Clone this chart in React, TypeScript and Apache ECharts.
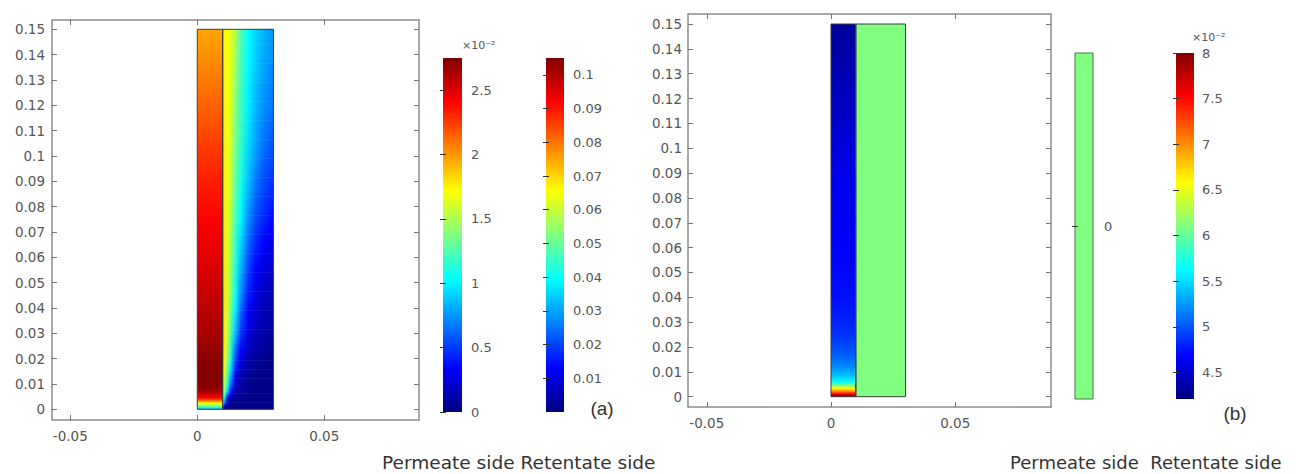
import React, { useEffect, useRef } from "react";
import * as echarts from "echarts";

// ---------- tick labels ----------
const yTicks = [0, 0.01, 0.02, 0.03, 0.04, 0.05, 0.06, 0.07, 0.08, 0.09, 0.1, 0.11, 0.12, 0.13, 0.14, 0.15];
const xTicks = [-0.05, 0, 0.05];

// colour bars (ranges + tick labels)
const cbA1Range = [0, 2.75]; // ×10^-2
const cbA1Ticks = [0, 0.5, 1, 1.5, 2, 2.5];
const cbA2Range = [0, 0.105];
const cbA2Ticks = [0.01, 0.02, 0.03, 0.04, 0.05, 0.06, 0.07, 0.08, 0.09, 0.1];
const cbB1Range = [-1, 1];
const cbB1Ticks = [0];
const cbB2Range = [4.21, 8]; // ×10^-2
const cbB2Ticks = [4.5, 5, 5.5, 6, 6.5, 7, 7.5, 8];

// ---------- geometry of the two domains ----------
const domainX = [0, 0.01, 0.03];
const domainY = [0, 0.15];

// ---------- panel (a) permeate strip (x 0 .. 0.01), values ×10^-2 ----------
const permAY = [0, 0.0008, 0.0017, 0.0025, 0.0033, 0.0045, 0.006, 0.008, 0.012, 0.02, 0.03, 0.045, 0.06, 0.075, 0.09, 0.105, 0.12, 0.135, 0.15];
const permAVal = [0.82, 1.15, 1.5, 1.73, 2.06, 2.4, 2.56, 2.7, 2.75, 2.72, 2.64, 2.56, 2.48, 2.41, 2.33, 2.24, 2.14, 2.05, 1.96];

// ---------- panel (a) retentate side (x 0.01 .. 0.03) ----------
const retAX = [0.01, 0.0105, 0.011, 0.012, 0.013, 0.015, 0.017, 0.02, 0.023, 0.026, 0.03];
const retAY = [0, 0.0005, 0.002, 0.004, 0.007, 0.01, 0.015, 0.02, 0.03, 0.045, 0.06, 0.075, 0.09, 0.105, 0.12, 0.135, 0.15];
const retAVal = [
  [0.012, 0.004, 0.002, 0.001, 0.001, 0.001, 0.001, 0.001, 0.001, 0.001, 0.001],
  [0.021, 0.008, 0.003, 0.001, 0.001, 0.001, 0.001, 0.001, 0.001, 0.001, 0.001],
  [0.047, 0.028, 0.014, 0.004, 0.002, 0.001, 0.001, 0.001, 0.001, 0.001, 0.001],
  [0.061, 0.045, 0.03, 0.01, 0.004, 0.002, 0.001, 0.001, 0.001, 0.001, 0.001],
  [0.066, 0.057, 0.048, 0.033, 0.016, 0.005, 0.003, 0.002, 0.001, 0.001, 0.001],
  [0.069, 0.062, 0.054, 0.043, 0.027, 0.009, 0.004, 0.002, 0.001, 0.001, 0.001],
  [0.071, 0.066, 0.06, 0.049, 0.036, 0.015, 0.007, 0.003, 0.002, 0.001, 0.001],
  [0.073, 0.068, 0.063, 0.054, 0.043, 0.021, 0.011, 0.005, 0.003, 0.002, 0.001],
  [0.075, 0.07, 0.066, 0.058, 0.049, 0.033, 0.019, 0.01, 0.006, 0.004, 0.003],
  [0.074, 0.07, 0.067, 0.061, 0.054, 0.041, 0.028, 0.016, 0.01, 0.007, 0.005],
  [0.072, 0.069, 0.067, 0.062, 0.056, 0.044, 0.034, 0.022, 0.015, 0.011, 0.009],
  [0.071, 0.068, 0.067, 0.063, 0.058, 0.047, 0.039, 0.028, 0.021, 0.017, 0.014],
  [0.07, 0.068, 0.067, 0.064, 0.06, 0.05, 0.042, 0.033, 0.026, 0.021, 0.018],
  [0.069, 0.068, 0.067, 0.064, 0.061, 0.052, 0.045, 0.036, 0.03, 0.025, 0.022],
  [0.069, 0.068, 0.066, 0.065, 0.062, 0.054, 0.046, 0.038, 0.032, 0.028, 0.025],
  [0.068, 0.067, 0.066, 0.065, 0.063, 0.056, 0.047, 0.039, 0.034, 0.03, 0.027],
  [0.068, 0.067, 0.066, 0.065, 0.063, 0.058, 0.048, 0.04, 0.035, 0.032, 0.029],
];

// ---------- panel (b) ----------
const permBY = [0, 0.0003, 0.0011, 0.002, 0.0033, 0.004, 0.0059, 0.0083, 0.0128, 0.0176, 0.026, 0.039, 0.059, 0.087, 0.119, 0.15];
const permBVal = [8.0, 7.92, 7.55, 7.09, 6.6, 6.29, 5.65, 5.42, 5.16, 5.01, 4.85, 4.74, 4.68, 4.62, 4.45, 4.32];
const retBVal = 0;

// axis ranges
const aXRange = [-0.0572, 0.0873];
const aYRange = [-0.00422, 0.15367];
const bXRange = [-0.05757, 0.08857];
const bYRange = [-0.00415, 0.15403];

// ---------- colour map (rainbow / jet) ----------
const jetHex = ["#000080", "#0000FF", "#0080FF", "#00FFFF", "#80FF80", "#FFFF00", "#FF8000", "#FF0000", "#800000"];
const hexRgb = (h: string) => [parseInt(h.slice(1, 3), 16), parseInt(h.slice(3, 5), 16), parseInt(h.slice(5, 7), 16)];
const jetRgb = jetHex.map(hexRgb);
function jet(f: number): string {
  const c = Math.max(0, Math.min(1, f)) * 8;
  const i = Math.min(7, Math.floor(c));
  const t = c - i;
  const a = jetRgb[i], b = jetRgb[i + 1];
  const m = (k: number) => Math.round(a[k] + (b[k] - a[k]) * t);
  return `rgb(${m(0)},${m(1)},${m(2)})`;
}
const norm = (v: number, r: number[]) => (v - r[0]) / (r[1] - r[0]);

const FONT = "'DejaVu Sans', sans-serif";
const LABEL = "#555";
const FRAME = "#8c8c8c";
const fmt = (v: number) => String(parseFloat(Number(v).toPrecision(6)));

function rectFrom(api: any, x0: number, x1: number, y0: number, y1: number) {
  const p0 = api.coord([x0, y1]);
  const p1 = api.coord([x1, y0]);
  return { x: p0[0], y: p0[1], width: p1[0] - p0[0], height: p1[1] - p0[1] };
}

function vGradient(ys: number[], vals: number[], y0: number, y1: number, range: number[]) {
  const stops = ys.map((y, i) => ({ offset: (y1 - y) / (y1 - y0), color: jet(norm(vals[i], range)) }));
  stops.sort((p, q) => p.offset - q.offset);
  return new echarts.graphic.LinearGradient(0, 0, 0, 1, stops);
}

function mainAxes(g: number, xr: number[], yr: number[], yMargin: number, xMargin: number) {
  const tick = { show: true, inside: true, length: 5, lineStyle: { color: "#777", width: 1 } };
  const line = { show: true, onZero: false, lineStyle: { color: FRAME, width: 1.5 } };
  const lbl = { color: LABEL, fontSize: 13.5, fontFamily: FONT, formatter: fmt };
  const xAxis = [
    { gridIndex: g, type: "value", min: xr[0], max: xr[1], position: "bottom", axisLine: line,
      axisTick: { ...tick, customValues: xTicks }, axisLabel: { ...lbl, customValues: xTicks, margin: xMargin }, splitLine: { show: false } },
    { gridIndex: g, type: "value", min: xr[0], max: xr[1], position: "top", axisLine: line,
      axisTick: { ...tick, customValues: xTicks }, axisLabel: { show: false }, splitLine: { show: false } },
  ];
  const yAxis = [
    { gridIndex: g, type: "value", min: yr[0], max: yr[1], position: "left", axisLine: line,
      axisTick: { ...tick, customValues: yTicks }, axisLabel: { ...lbl, customValues: yTicks, margin: yMargin }, splitLine: { show: false } },
    { gridIndex: g, type: "value", min: yr[0], max: yr[1], position: "right", axisLine: line,
      axisTick: { ...tick, customValues: yTicks }, axisLabel: { show: false }, splitLine: { show: false } },
  ];
  return { xAxis, yAxis };
}

function cbAxes(g: number, r: number[], ticks: number[], margin: number) {
  const tick = { show: true, inside: true, length: 3, customValues: ticks, lineStyle: { color: "#333", width: 1 } };
  return {
    xAxis: [{ gridIndex: g, type: "value", min: 0, max: 1, show: false }],
    yAxis: [
      { gridIndex: g, type: "value", min: r[0], max: r[1], position: "right", z: 10, axisLine: { show: false },
        axisTick: tick, splitLine: { show: false },
        axisLabel: { customValues: ticks, margin, color: LABEL, fontSize: 13, fontFamily: FONT, formatter: fmt } },
      { gridIndex: g, type: "value", min: r[0], max: r[1], position: "left", z: 10, axisLine: { show: false },
        axisTick: tick, splitLine: { show: false }, axisLabel: { show: false } },
    ],
  };
}

export default function App() {
  const ref = useRef<HTMLDivElement>(null);
  useEffect(() => {
    if (!ref.current) return;
    const chart = echarts.init(ref.current, null, { renderer: "svg" });

    const grids = [
      { left: 52, top: 20, width: 367, height: 400 },
      { left: 688, top: 14, width: 363, height: 393 },
      { left: 443, top: 58, width: 19, height: 354 },
      { left: 546, top: 58, width: 18, height: 354 },
      { left: 1075, top: 53, width: 18, height: 346 },
      { left: 1176, top: 53, width: 18, height: 346 },
    ].map((g) => ({ ...g, outerBoundsMode: "none", show: false }));

    const parts = [
      mainAxes(0, aXRange, aYRange, 7, 9),
      mainAxes(1, bXRange, bYRange, 6, 9),
      cbAxes(2, cbA1Range, cbA1Ticks, 9),
      cbAxes(3, cbA2Range, cbA2Ticks, 9),
      cbAxes(4, cbB1Range, cbB1Ticks, 11),
      cbAxes(5, cbB2Range, cbB2Ticks, 8),
    ];
    const xAxis: any[] = [];
    const yAxis: any[] = [];
    const xIdx: number[] = [];
    const yIdx: number[] = [];
    parts.forEach((p) => {
      xIdx.push(xAxis.length);
      yIdx.push(yAxis.length);
      xAxis.push(...p.xAxis);
      yAxis.push(...p.yAxis);
    });

    const on = (g: number) => ({ xAxisIndex: xIdx[g], yAxisIndex: yIdx[g] });

    // retentate (a): one item per pair of measured rows
    const retABands = retAY.slice(0, -1).map((y, j) => [domainX[1], domainX[2], y, retAY[j + 1]]);

    const outline = (g: number) => ({
      type: "custom", ...on(g), silent: true, z: 5,
      data: [
        [domainX[0], domainX[1], domainY[0], domainY[1]],
        [domainX[1], domainX[2], domainY[0], domainY[1]],
      ],
      renderItem: (_p: any, api: any) => ({
        type: "rect",
        shape: rectFrom(api, api.value(0), api.value(1), api.value(2), api.value(3)),
        style: { fill: "none", stroke: "#3c3c3c", lineWidth: 1 },
      }),
    });

    const colorbar = (g: number, r: number[], solid?: string) => ({
      type: "custom", ...on(g), silent: true,
      data: [[0, 1, r[0], r[1]]],
      renderItem: (_p: any, api: any) => ({
        type: "rect",
        shape: rectFrom(api, api.value(0), api.value(1), api.value(2), api.value(3)),
        style: solid
          ? { fill: solid, stroke: "#4d6e4d", lineWidth: 1 }
          : { fill: new echarts.graphic.LinearGradient(0, 0, 0, 1, jetHex.map((c, k) => ({ offset: 1 - k / 8, color: c })).reverse()) },
      }),
    });

    const series: any[] = [
      // panel (a) permeate
      {
        type: "custom", ...on(0), silent: true,
        data: [[domainX[0], domainX[1], domainY[0], domainY[1]]],
        renderItem: (_p: any, api: any) => ({
          type: "rect",
          shape: rectFrom(api, api.value(0), api.value(1), api.value(2), api.value(3)),
          style: { fill: vGradient(permAY, permAVal, domainY[0], domainY[1], cbA1Range) },
        }),
      },
      // panel (a) retentate: shaded smoothly between two measured rows
      {
        type: "custom", ...on(0), silent: true,
        data: retABands,
        renderItem: (p: any, api: any) => {
          const j = p.dataIndex;
          const x0 = api.value(0), x1 = api.value(1);
          const s = rectFrom(api, x0, x1, api.value(2), api.value(3));
          const n = Math.max(1, Math.ceil(s.height / 2));
          const children: any[] = [];
          for (let k = 0; k < n; k++) {
            const t = 1 - (k + 0.5) / n; // 1 at top (row j+1), 0 at bottom (row j)
            const stops = retAX.map((x, i) => ({
              offset: (x - x0) / (x1 - x0),
              color: jet(norm(retAVal[j][i] * (1 - t) + retAVal[j + 1][i] * t, cbA2Range)),
            }));
            children.push({
              type: "rect",
              shape: { x: s.x, y: s.y + (k * s.height) / n - 0.3, width: s.width, height: s.height / n + 0.6 },
              style: { fill: new echarts.graphic.LinearGradient(0, 0, 1, 0, stops) },
            });
          }
          return { type: "group", children };
        },
      },
      outline(0),
      // panel (b) permeate
      {
        type: "custom", ...on(1), silent: true,
        data: [[domainX[0], domainX[1], domainY[0], domainY[1]]],
        renderItem: (_p: any, api: any) => ({
          type: "rect",
          shape: rectFrom(api, api.value(0), api.value(1), api.value(2), api.value(3)),
          style: { fill: vGradient(permBY, permBVal, domainY[0], domainY[1], cbB2Range) },
        }),
      },
      // panel (b) retentate (constant)
      {
        type: "custom", ...on(1), silent: true,
        data: [[domainX[1], domainX[2], domainY[0], domainY[1], retBVal]],
        renderItem: (_p: any, api: any) => ({
          type: "rect",
          shape: rectFrom(api, api.value(0), api.value(1), api.value(2), api.value(3)),
          style: { fill: jet(norm(api.value(4), cbB1Range)) },
        }),
      },
      outline(1),
      colorbar(2, cbA1Range),
      colorbar(3, cbA2Range),
      colorbar(4, cbB1Range, jet(norm(retBVal, cbB1Range))),
      colorbar(5, cbB2Range),
    ];

    const txt = (x: number, y: number, text: string, size: number, fill: string, family = FONT, align = "left", scaleX = 1) => ({
      type: "text", x, y, scaleX, silent: true,
      style: { text, fontSize: size, fontFamily: family, fill, align, verticalAlign: "middle" },
    });

    chart.setOption({
      animation: false,
      backgroundColor: "#ffffff",
      grid: grids,
      xAxis,
      yAxis,
      series,
      graphic: [
        txt(462, 45, "×10⁻²", 11, LABEL),
        txt(1192, 37, "×10⁻²", 11, LABEL),
        txt(602, 408, "(a)", 19, "#333", "'Liberation Sans', Arial, sans-serif", "center"),
        txt(1235, 413, "(b)", 19, "#333", "'Liberation Sans', Arial, sans-serif", "center"),
        txt(382, 463, "Permeate side Retentate side", 17.5, "#333", FONT, "left", 1.06),
        txt(1010, 463, "Permeate side  Retentate side", 17.5, "#333", FONT, "left", 1.03),
      ],
    });
    return () => chart.dispose();
  }, []);

  return <div ref={ref} style={{ position: "fixed", left: 0, top: 0, width: 1302, height: 474, background: "#fff" }} />;
}
